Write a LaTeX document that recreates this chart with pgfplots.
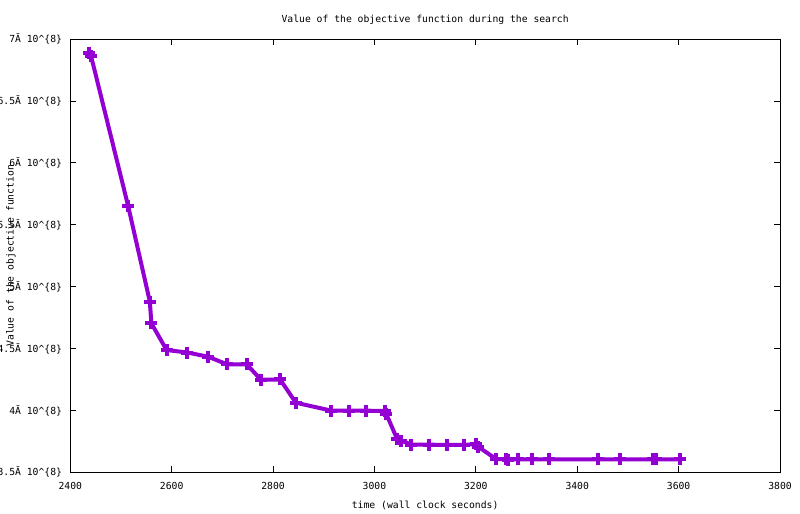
\documentclass[border=0pt]{standalone}
\usepackage{fontspec}
\setmainfont{DejaVu Sans Mono}
\setmonofont{DejaVu Sans Mono}
\usepackage{pgfplots}
\pgfplotsset{compat=1.18}
\definecolor{gpviolet}{RGB}{148,0,211}
\pgfplotstableread{
x y
2437 6.889
2441 6.865
2514 5.655
2557 4.879
2560 4.704
2590 4.488
2631 4.468
2672 4.434
2709 4.373
2748 4.373
2776 4.248
2814 4.250
2845 4.062
2915 3.998
2949 3.998
2984 3.998
3020 3.995
3023 3.975
3045 3.766
3053 3.755
3073 3.723
3108 3.723
3144 3.721
3176 3.721
3200 3.728
3205 3.705
3240 3.607
3259 3.607
3263 3.602
3284 3.605
3311 3.605
3345 3.605
3440 3.605
3484 3.605
3549 3.605
3556 3.605
3603 3.605
}\objdata
\begin{document}
\begin{tikzpicture}
\path[use as bounding box] (0,0) rectangle (600pt,385.5pt);
\begin{axis}[
  scale only axis,
  width=532.3pt, height=324.75pt,
  at={(52.7pt,31.3pt)}, anchor=south west,
  xmin=2400, xmax=3800, ymin=3.5, ymax=7,
  xtick={2400,2600,2800,3000,3200,3400,3600,3800},
  xticklabels={2400,2600,2800,3000,3200,3400,3600,3800},
  ytick={3.5,4,4.5,5,5.5,6,6.5,7},
  yticklabels={3.5Ă 10\textasciicircum\{8\},4Ă 10\textasciicircum\{8\},4.5Ă 10\textasciicircum\{8\},5Ă 10\textasciicircum\{8\},5.5Ă 10\textasciicircum\{8\},6Ă 10\textasciicircum\{8\},6.5Ă 10\textasciicircum\{8\},7Ă 10\textasciicircum\{8\}},
  tick align=inside,
  tick pos=both,
  major tick length=4.5pt,
  axis line style={line width=0.75pt, black},
  every tick/.style={line width=0.75pt, black},
  font=\fontsize{7.3}{8}\selectfont,
  xticklabel style={anchor=north, inner sep=0pt, yshift=-7.3pt},
  yticklabel style={anchor=east, inner sep=0pt, xshift=-6pt},
  every axis title shift=0pt,
  title={Value of the objective function during the search},
  title style={at={(axis description cs:0.5,1.0446)}, anchor=center, inner sep=0pt},
  xlabel={time (wall clock seconds)},
  xlabel style={at={(axis description cs:0.5,-0.0755)}, anchor=center, inner sep=0pt},
  ylabel={Value of the objective function},
  ylabel style={at={(axis description cs:-0.0836,0.5)}, anchor=center, inner sep=0pt, rotate=0},
  clip=false,
]
\addplot[gpviolet, line width=3pt, mark=+, mark size=4.5pt, mark options={solid, line width=3pt}] table[x=x,y=y] {\objdata};
\end{axis}
\end{tikzpicture}
\end{document}
